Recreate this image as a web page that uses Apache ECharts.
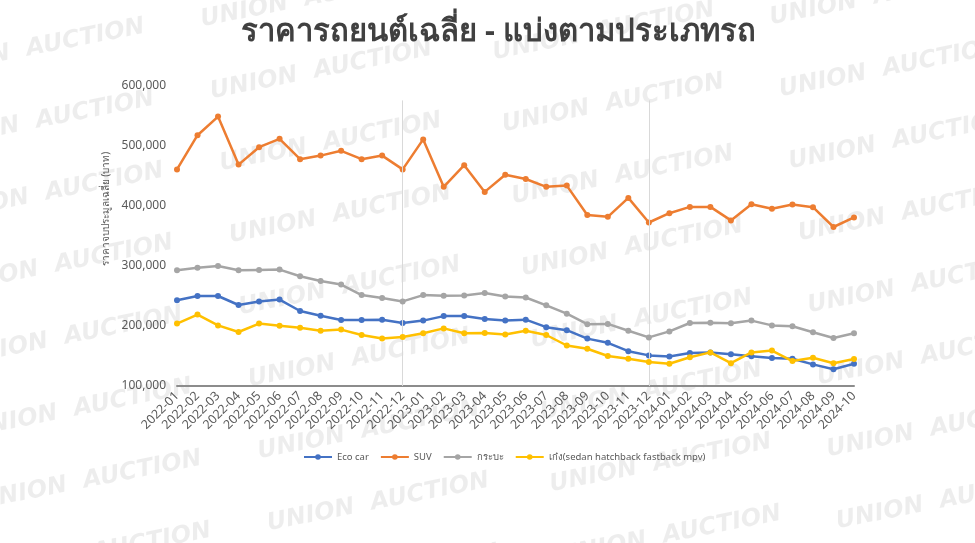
<!DOCTYPE html>
<html><head><meta charset="utf-8">
<script src="https://cdn.jsdelivr.net/npm/echarts@6/dist/echarts.min.js"></script>
<style>html,body{margin:0;padding:0;background:#fff}#c{width:975px;height:543px}</style>
</head><body><div id="c"></div>
<script>
const months = ['2022-01','2022-02','2022-03','2022-04','2022-05','2022-06','2022-07','2022-08','2022-09','2022-10','2022-11','2022-12',
  '2023-01','2023-02','2023-03','2023-04','2023-05','2023-06','2023-07','2023-08','2023-09','2023-10','2023-11','2023-12',
  '2024-01','2024-02','2024-03','2024-04','2024-05','2024-06','2024-07','2024-08','2024-09','2024-10'];
const ecoCar = [243000,250000,250000,235000,241000,244000,225000,217000,210000,210000,210500,205000,
  209000,216500,216500,211500,209000,210500,198000,193000,179000,172000,158000,151000,
  149000,155000,156000,153000,149500,146500,145500,136000,128000,137000];
const suv = [461000,518000,549000,469000,498000,512000,478000,484000,492000,478000,484000,461000,
  511000,432000,468000,423500,452000,445000,432000,434000,385000,382000,413500,372500,
  388000,398500,398500,376000,403000,395500,402500,398000,365000,381000];
const pickup = [293000,297000,300000,293000,293500,294000,283000,275000,269000,251500,246500,241000,
  251500,250500,251000,255000,249000,247500,234500,220500,203000,203500,192000,181000,
  191000,205000,205500,204500,209000,201000,199500,189500,180000,188000];
const sedan = [204000,219000,201000,190000,204000,200500,197000,192000,194000,185000,179000,181500,
  188000,196000,188000,188500,186000,192000,185000,167500,162000,150000,145500,140000,
  137000,148000,156000,138000,156000,159000,141500,147000,138000,145000];
const seriesNames = ['Eco car','SUV','กระบะ','เก๋ง(sedan hatchback fastback mpv)'];
const seriesColors = ['#4472C4','#ED7D31','#A5A5A5','#FFC000'];
const dividerMonths = ['2022-12','2023-12'];
const dividerTop = 576000;
const yMin = 100000, yMax = 600000, yStep = 100000;

const FONT = '"Noto Sans", "Open Sans", sans-serif';
const chart = echarts.init(document.getElementById('c'), null, {renderer:'canvas'});

// watermark text tiles
const wm = [];
const cols = [[-75,82],[203,32],[495,65],[772,30]];
cols.forEach(([x0,y0])=>{
  for (let k=-1;k<9;k++){
    wm.push({type:'text', x:x0+9.5*k, y:y0+72*k, rotation:0.195, z:-10, silent:true,
      style:{text:'UNION  AUCTION', fill:'rgba(0,0,0,0.07)', font:'oblique bold 24px "DejaVu Sans", sans-serif',
        textAlign:'left', textVerticalAlign:'bottom'}});
  }
});
wm.push({type:'text', x:106, y:209, rotation:Math.PI/2, z:5, silent:true,
  style:{text:'ราคาจบประมูลเฉลี่ย (บาท)', fill:'#595959', font:'10px '+FONT, textAlign:'center', textVerticalAlign:'middle'}});

const data = [ecoCar, suv, pickup, sedan];
const series = data.map((d,i)=>({
  name: seriesNames[i], type:'line', data:d, z: 3+i,
  symbol:'circle', symbolSize:6, showSymbol:true,
  lineStyle:{width:2.5, color:seriesColors[i]},
  itemStyle:{color:seriesColors[i]},
  emphasis:{disabled:true}
}));
series[0].markLine = {
  silent:true, symbol:'none', label:{show:false},
  lineStyle:{color:'#d9d9d9', width:1, type:'solid'},
  data: dividerMonths.map(m=>[{coord:[m, dividerTop]},{coord:[m, yMin]}])
};

chart.setOption({
  animation:false,
  backgroundColor:'#fff',
  title:{text:'ราคารถยนต์เฉลี่ย - แบ่งตามประเภทรถ', left:236, top:12,
    textStyle:{fontFamily:FONT, fontSize:31, fontWeight:'bold', color:'#404040'}},
  graphic: wm,
  legend:{data:seriesNames, left:298, top:447, itemWidth:28, itemHeight:7, itemGap:11,
    textStyle:{fontFamily:FONT, fontSize:9.5, color:'#595959'}},
  grid:{left:177, right:121, top:86, bottom:157, containLabel:false},
  xAxis:{type:'category', data:months, boundaryGap:false,
    axisLine:{lineStyle:{color:'#8c8c8c', width:2}},
    axisTick:{show:false},
    axisLabel:{rotate:45, fontSize:12.5, color:'#595959', fontFamily:FONT, margin:8, interval:0},
    splitLine:{show:false}},
  yAxis:{type:'value', min:yMin, max:yMax, interval:yStep,
    axisLine:{show:false}, axisTick:{show:false}, splitLine:{show:false},
    axisLabel:{fontSize:12, color:'#595959', fontFamily:FONT, margin:11,
      formatter:v=>v.toLocaleString('en-US')}},
  series: series
});
</script></body></html>
